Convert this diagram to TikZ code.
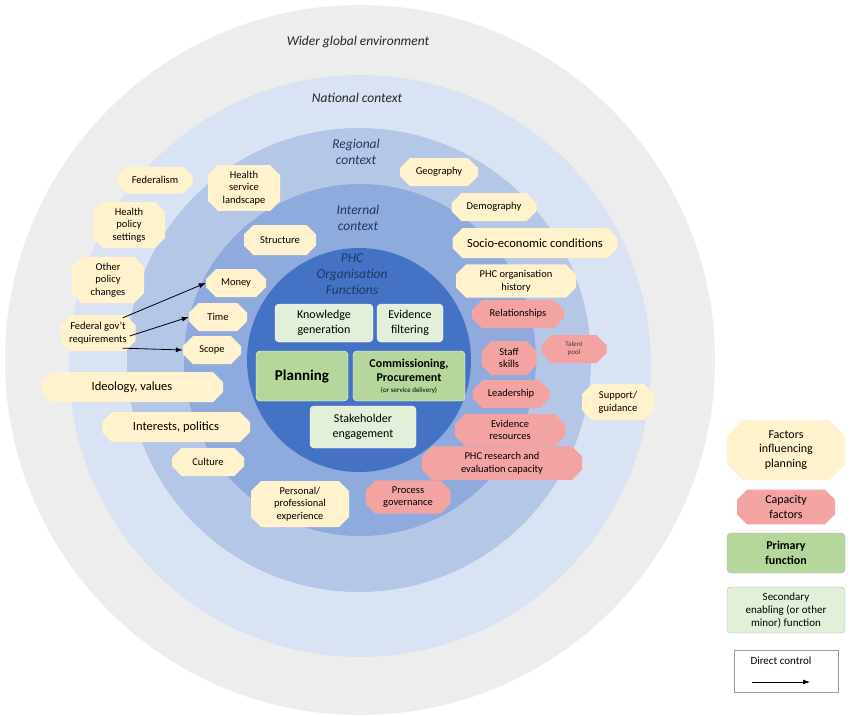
\documentclass[tikz,border=0pt]{standalone}
\usepackage{fontspec}
\setmainfont{Carlito}
\usetikzlibrary{shapes.misc,arrows.meta}
\definecolor{yel}{HTML}{FFF2CC}
\definecolor{red}{HTML}{F4A3A3}
\definecolor{pri}{HTML}{B5D79C}
\definecolor{sec}{HTML}{E2F0D9}
\definecolor{c1}{HTML}{EDEDED}
\definecolor{c2}{HTML}{DAE3F3}
\definecolor{c3}{HTML}{B4C7E7}
\definecolor{c4}{HTML}{8FAADC}
\definecolor{c5}{HTML}{4472C4}
\definecolor{dk}{HTML}{1F3864}
\begin{document}
\begin{tikzpicture}[x=1pt,y=-1pt,
 base/.style={chamfered rectangle,chamfered rectangle xsep=2cm,chamfered rectangle sep=5pt,align=center,font=\fontsize{10.5}{12.5}\selectfont,inner sep=1pt,draw=none},
 f/.style={base,fill=yel,minimum width=#1},
 r/.style={base,fill=red,minimum width=#1},
 g/.style={rectangle,rounded corners=4pt,align=center,font=\fontsize{12}{14.5}\selectfont,fill=sec,draw=white,minimum width=#1},
 p/.style={g=#1,fill=pri},
 lab/.style={font=\itshape\fontsize{13.5}{16}\selectfont,align=center,text=black!85},
 ar/.style={-{Latex[length=7pt,width=5pt]},thick}]
\useasboundingbox (0,0) rectangle (854,716);
\fill[white] (0,0) rectangle (854,716);
\fill[c1] (360,360) circle (355);
\fill[c2] (360,366) circle (291);
\fill[c3] (359,360) circle (232);
\fill[c4] (360,360) circle (176);
\fill[c5] (359,360) circle (112);
\node[lab] (w) at (358,42) {Wider global environment};
\node[lab] (n) at (357,98) {National context};
\node[lab,text=dk] (rg) at (356,152) {Regional\\context};
\node[lab,text=dk] (ic) at (358,218) {Internal\\context};
\node[lab,text=dk] (phc) at (352,274) {PHC\\Organisation\\Functions};
\node[f=75pt,minimum height=27pt] (fed) at (155,180) {Federalism};
\node[f=72pt,minimum height=42pt] (hsl) at (244,188) {Health\\service\\landscape};
\node[f=72pt,minimum height=42pt] (hps) at (129,225) {Health\\policy\\settings};
\node[f=72pt,minimum height=42pt] (opc) at (108,280) {Other\\policy\\changes};
\node[f=75pt,minimum height=36pt] (fgr) at (98,333) {Federal gov't\\requirements};
\node[f=182pt,minimum height=30pt,font=\fontsize{12.5}{14}\selectfont] (ide) at (132,387) {Ideology, values};
\node[f=148pt,minimum height=30pt,font=\fontsize{12.5}{14}\selectfont] (int) at (176,427) {Interests, politics};
\node[f=72pt,minimum height=28pt] (cul) at (208,462) {Culture};
\node[f=72pt,minimum height=30pt] (str) at (280,240) {Structure};
\node[f=60pt,minimum height=28pt] (mon) at (236,283) {Money};
\node[f=58pt,minimum height=28pt] (tim) at (218,317) {Time};
\node[f=58pt,minimum height=28pt] (sco) at (212,350) {Scope};
\node[f=78pt,minimum height=28pt] (geo) at (439,172) {Geography};
\node[f=85pt,minimum height=28pt] (dem) at (494,207) {Demography};
\node[f=165pt,minimum height=30pt,font=\fontsize{12.5}{14}\selectfont] (soc) at (535,243) {Socio-economic conditions};
\node[f=120pt,minimum height=28pt] (his) at (516,281) {PHC organisation\\history};
\node[r=92pt,minimum height=28pt] (rel) at (518,314) {Relationships};
\node[r=55pt,minimum height=34pt] (sta) at (509,358) {Staff\\skills};
\node[r=65pt,minimum height=28pt,font=\fontsize{7}{8}\selectfont,text=black!75] (tal) at (574,349) {Talent\\pool};
\node[r=77pt,minimum height=28pt] (lea) at (511,394) {Leadership};
\node[f=72pt,minimum height=36pt] (sup) at (618,402) {Support/\\guidance};
\node[r=110pt,minimum height=28pt] (evr) at (510,430) {Evidence\\resources};
\node[r=160pt,minimum height=28pt] (res) at (502,463) {PHC research and\\evaluation capacity};
\node[r=85pt,minimum height=28pt] (pgv) at (408,497) {Process\\governance};
\node[f=98pt,minimum height=40pt] (per) at (300,504) {Personal/\\professional\\experience};
\node[g=98pt,minimum height=38pt] (kg) at (324,323) {Knowledge\\generation};
\node[g=66pt,minimum height=38pt] (ef) at (410,323) {Evidence\\filtering};
\node[p=92pt,minimum height=50pt,font=\bfseries\fontsize{15}{18}\selectfont] (pl) at (302,376) {Planning};
\node[p=112pt,minimum height=50pt,font=\bfseries\fontsize{12}{14}\selectfont] (com) at (409,376) {Commissioning,\\Procurement\\[-3pt]{\mdseries\fontsize{7}{8}\selectfont (or service delivery)}};
\node[g=106pt,minimum height=42pt] (stk) at (363,427) {Stakeholder\\engagement};
\draw[ar] (fgr.north east) ++(-8,-2) coordinate (a1) -- (mon.west);
\draw[ar] (fgr.east) ++(-6,3) coordinate (a2) -- (tim.west);
\draw[ar] (fgr.south east) ++(-8,2) coordinate (a3) -- (sco.west);
% legend
\node[f=118pt,minimum height=60pt,font=\fontsize{12}{14.5}\selectfont,chamfered rectangle sep=8pt] (lf) at (786,450) {Factors\\influencing\\planning};
\node[r=98pt,minimum height=34pt,font=\fontsize{12}{14.5}\selectfont] (lc) at (786,507) {Capacity\\factors};
\node[p=118pt,minimum height=40pt,font=\bfseries\fontsize{12}{14.5}\selectfont,draw=black!30] (lp) at (786,553) {Primary\\function};
\node[g=118pt,minimum height=46pt,draw=black!30,font=\fontsize{11}{13}\selectfont] (ls) at (786,610) {Secondary\\enabling (or other\\minor) function};
\node[draw=black!40,minimum width=104pt,minimum height=42pt] (lb) at (786,671) {};
\node[font=\fontsize{11}{13}\selectfont,anchor=north] (ld) at (781,653) {Direct control};
\coordinate (l1) at (752,682);
\coordinate (l2) at (810,682);
\draw[ar] (l1) -- (l2);
\end{tikzpicture}
\end{document}
